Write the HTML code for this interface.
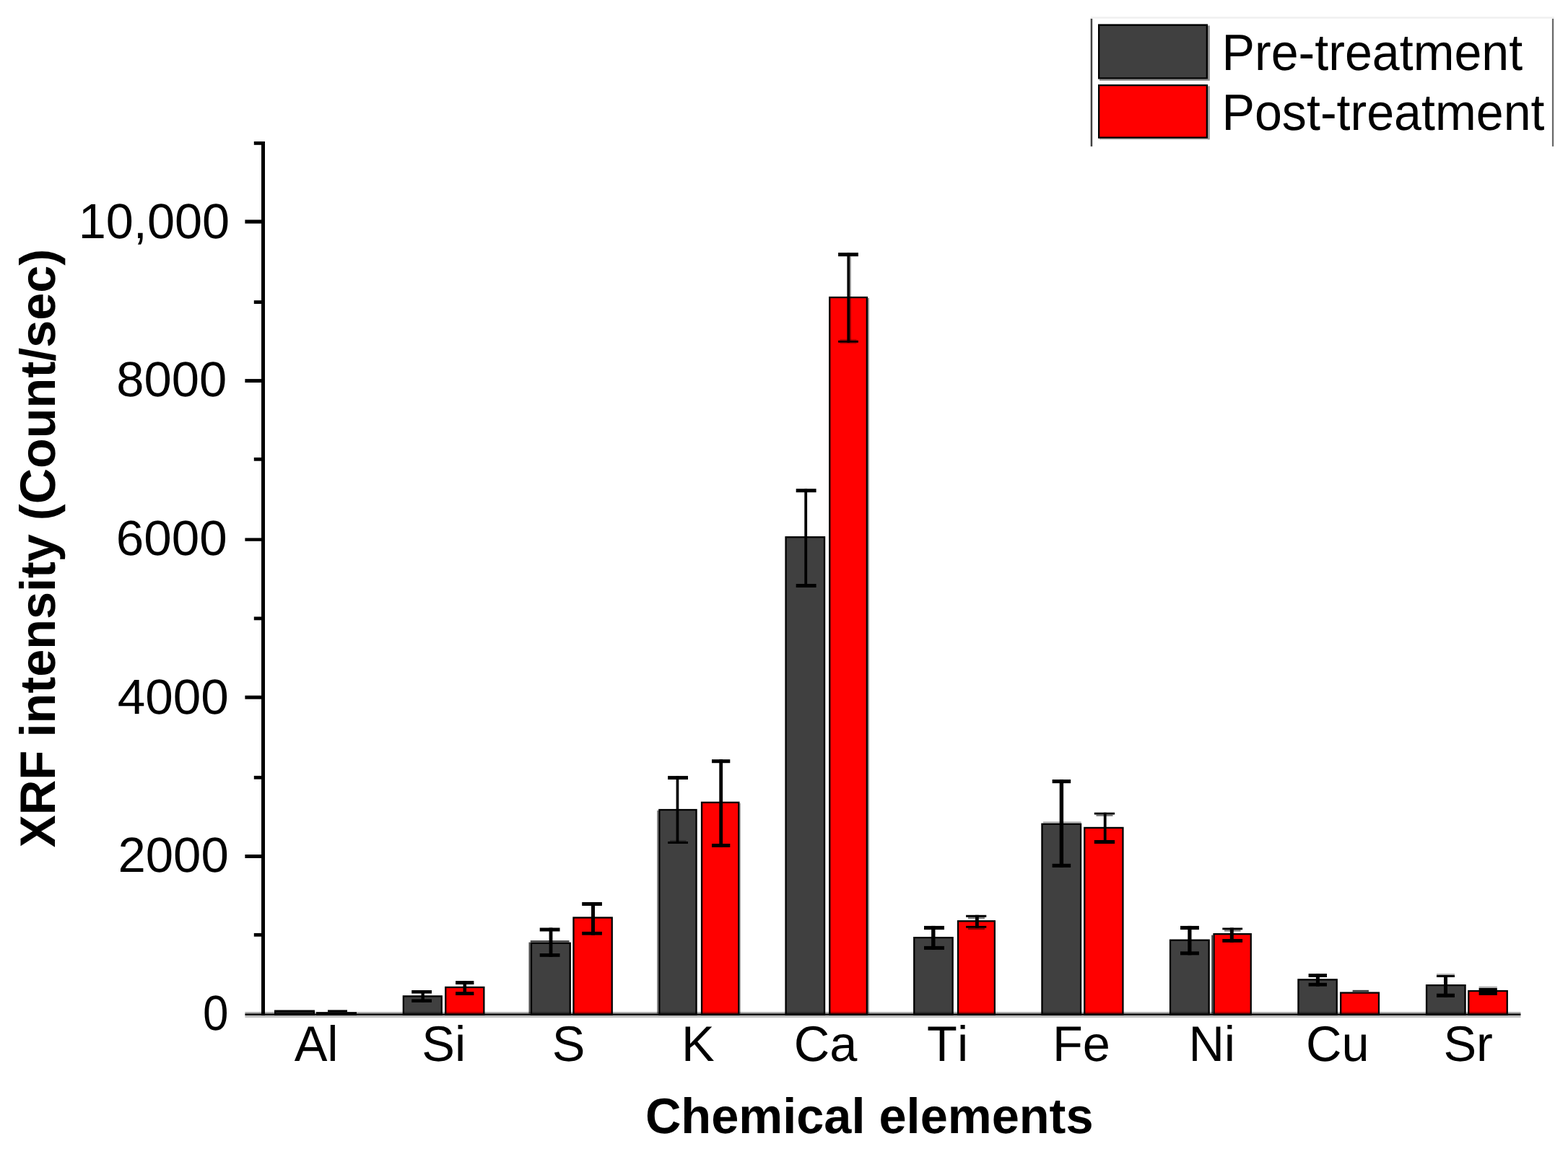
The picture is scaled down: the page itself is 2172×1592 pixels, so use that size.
<!DOCTYPE html>
<html lang="en">
<head>
<meta charset="utf-8">
<title>XRF intensity by chemical element</title>
<style>
html,body{margin:0;padding:0;background:#fff;}
body{width:2172px;height:1592px;overflow:hidden;}
svg{display:block;}
text{font-family:"Liberation Sans",Arial,Helvetica,sans-serif;fill:#000;font-kerning:none;text-rendering:geometricPrecision;}
</style>
</head>
<body>
<svg width="2172" height="1592" viewBox="0 0 2172 1592">
<rect x="0" y="0" width="2172" height="1592" fill="#fff"/>
<rect x="380.00" y="1399.50" width="56.00" height="7.40" fill="#000"/>
<rect x="382.30" y="1401.80" width="51.40" height="2.60" fill="#262626"/>
<rect x="438.00" y="1402.20" width="56.00" height="4.70" fill="#000"/>
<rect x="557.70" y="1379.20" width="55.20" height="27.70" fill="#000"/>
<rect x="560.00" y="1381.50" width="50.60" height="22.90" fill="#404040"/>
<rect x="616.10" y="1366.80" width="55.40" height="40.10" fill="#000"/>
<rect x="618.40" y="1369.10" width="50.80" height="35.30" fill="#ff0000"/>
<rect x="734.80" y="1305.60" width="56.10" height="101.30" fill="#000"/>
<rect x="737.10" y="1307.90" width="51.50" height="96.50" fill="#404040"/>
<rect x="793.30" y="1270.30" width="55.60" height="136.60" fill="#000"/>
<rect x="795.60" y="1272.60" width="51.00" height="131.80" fill="#ff0000"/>
<rect x="912.20" y="1120.90" width="53.50" height="286.00" fill="#000"/>
<rect x="914.50" y="1123.20" width="48.90" height="281.20" fill="#404040"/>
<rect x="970.90" y="1110.70" width="53.60" height="296.20" fill="#000"/>
<rect x="973.20" y="1113.00" width="49.00" height="291.40" fill="#ff0000"/>
<rect x="1087.40" y="743.10" width="55.80" height="663.80" fill="#000"/>
<rect x="1089.70" y="745.40" width="51.20" height="659.00" fill="#404040"/>
<rect x="1148.10" y="410.90" width="53.90" height="996.00" fill="#000"/>
<rect x="1150.40" y="413.20" width="49.30" height="991.20" fill="#ff0000"/>
<rect x="1265.10" y="1298.00" width="55.70" height="108.90" fill="#000"/>
<rect x="1267.40" y="1300.30" width="51.10" height="104.10" fill="#404040"/>
<rect x="1325.90" y="1275.10" width="53.10" height="131.80" fill="#000"/>
<rect x="1328.20" y="1277.40" width="48.50" height="127.00" fill="#ff0000"/>
<rect x="1442.30" y="1140.60" width="55.90" height="266.30" fill="#000"/>
<rect x="1444.60" y="1142.90" width="51.30" height="261.50" fill="#404040"/>
<rect x="1501.10" y="1145.80" width="55.50" height="261.10" fill="#000"/>
<rect x="1503.40" y="1148.10" width="50.90" height="256.30" fill="#ff0000"/>
<rect x="1619.90" y="1301.50" width="55.90" height="105.40" fill="#000"/>
<rect x="1622.20" y="1303.80" width="51.30" height="100.60" fill="#404040"/>
<rect x="1680.40" y="1293.00" width="53.50" height="113.90" fill="#000"/>
<rect x="1682.70" y="1295.30" width="48.90" height="109.10" fill="#ff0000"/>
<rect x="1797.30" y="1356.20" width="55.60" height="50.70" fill="#000"/>
<rect x="1799.60" y="1358.50" width="51.00" height="45.90" fill="#404040"/>
<rect x="1856.00" y="1374.40" width="55.10" height="32.50" fill="#000"/>
<rect x="1858.30" y="1376.70" width="50.50" height="27.70" fill="#ff0000"/>
<rect x="1974.90" y="1364.00" width="55.80" height="42.90" fill="#000"/>
<rect x="1977.20" y="1366.30" width="51.20" height="38.10" fill="#404040"/>
<rect x="2033.10" y="1371.90" width="55.80" height="35.00" fill="#000"/>
<rect x="2035.40" y="1374.20" width="51.20" height="30.20" fill="#ff0000"/>
<rect x="732.50" y="1305.60" width="2.30" height="98.80" fill="#000" fill-opacity="0.70"/>
<rect x="734.80" y="1303.00" width="53.70" height="2.60" fill="#000" fill-opacity="0.70"/>
<rect x="1445.00" y="1138.30" width="52.60" height="2.30" fill="#000" fill-opacity="0.30"/>
<rect x="910.10" y="1123.00" width="2.10" height="281.40" fill="#000" fill-opacity="0.50"/>
<rect x="1024.50" y="1113.00" width="1.40" height="291.40" fill="#000" fill-opacity="0.35"/>
<rect x="1202.00" y="413.00" width="1.90" height="991.40" fill="#000" fill-opacity="0.45"/>
<rect x="1678.20" y="1295.60" width="2.20" height="108.80" fill="#000" fill-opacity="0.75"/>
<rect x="339.4" y="1402" width="1767.1" height="2.6" fill="#000" fill-opacity="0.31"/>
<rect x="339.4" y="1406.6" width="1767.1" height="3.4" fill="#000" fill-opacity="0.24"/>
<rect x="339.40" y="1404.40" width="1767.10" height="2.40" fill="#000"/>
<rect x="583.50" y="1372.00" width="4.40" height="16.90" fill="#000"/>
<rect x="570.20" y="1372.00" width="27.80" height="4.60" fill="#000"/>
<rect x="570.20" y="1384.40" width="27.80" height="4.50" fill="#000"/>
<rect x="641.50" y="1359.10" width="4.60" height="19.90" fill="#000"/>
<rect x="631.10" y="1359.10" width="25.30" height="4.90" fill="#000"/>
<rect x="631.10" y="1374.20" width="25.30" height="4.80" fill="#000"/>
<rect x="760.60" y="1285.50" width="4.80" height="40.30" fill="#000"/>
<rect x="747.70" y="1285.50" width="27.80" height="5.00" fill="#000"/>
<rect x="747.70" y="1321.00" width="27.80" height="4.80" fill="#000"/>
<rect x="819.00" y="1250.00" width="5.00" height="45.60" fill="#000"/>
<rect x="806.20" y="1250.00" width="27.70" height="5.00" fill="#000"/>
<rect x="806.20" y="1290.90" width="27.70" height="4.70" fill="#000"/>
<rect x="936.60" y="1075.10" width="3.70" height="93.90" fill="#000"/>
<rect x="925.10" y="1075.10" width="27.90" height="5.00" fill="#000"/>
<rect x="925.10" y="1166.00" width="27.90" height="3.00" fill="#000"/>
<rect x="996.30" y="1052.20" width="4.80" height="121.70" fill="#000"/>
<rect x="986.00" y="1052.20" width="25.30" height="5.00" fill="#000"/>
<rect x="986.00" y="1169.00" width="25.30" height="4.90" fill="#000"/>
<rect x="1114.30" y="677.20" width="3.80" height="136.80" fill="#000"/>
<rect x="1102.70" y="677.20" width="27.90" height="5.00" fill="#000"/>
<rect x="1102.70" y="809.00" width="27.90" height="5.00" fill="#000"/>
<rect x="1173.40" y="350.10" width="3.60" height="124.60" fill="#000"/>
<rect x="1161.10" y="350.10" width="27.80" height="5.10" fill="#000"/>
<rect x="1161.10" y="471.80" width="27.80" height="2.90" fill="#000"/>
<rect x="1290.10" y="1282.90" width="5.40" height="33.00" fill="#000"/>
<rect x="1280.00" y="1282.90" width="28.00" height="5.20" fill="#000"/>
<rect x="1280.00" y="1310.90" width="28.00" height="5.00" fill="#000"/>
<rect x="1351.00" y="1267.80" width="4.80" height="17.90" fill="#000"/>
<rect x="1338.10" y="1267.80" width="28.20" height="3.00" fill="#000"/>
<rect x="1338.10" y="1282.90" width="28.20" height="2.80" fill="#000"/>
<rect x="1467.70" y="1080.10" width="5.40" height="121.80" fill="#000"/>
<rect x="1457.60" y="1080.10" width="25.60" height="5.10" fill="#000"/>
<rect x="1457.60" y="1196.80" width="25.60" height="5.10" fill="#000"/>
<rect x="1528.80" y="1125.80" width="3.80" height="43.20" fill="#000"/>
<rect x="1515.80" y="1125.80" width="28.30" height="2.80" fill="#000"/>
<rect x="1515.80" y="1164.00" width="28.30" height="5.00" fill="#000"/>
<rect x="1645.30" y="1282.90" width="5.20" height="40.40" fill="#000"/>
<rect x="1635.00" y="1282.90" width="25.90" height="5.20" fill="#000"/>
<rect x="1635.00" y="1318.30" width="25.90" height="5.00" fill="#000"/>
<rect x="1703.80" y="1285.50" width="5.00" height="20.30" fill="#000"/>
<rect x="1693.30" y="1285.50" width="27.80" height="2.80" fill="#000"/>
<rect x="1693.30" y="1301.00" width="27.80" height="4.80" fill="#000"/>
<rect x="1822.90" y="1349.10" width="5.00" height="17.50" fill="#000"/>
<rect x="1812.60" y="1349.10" width="25.40" height="4.90" fill="#000"/>
<rect x="1812.60" y="1361.80" width="25.40" height="4.80" fill="#000"/>
<rect x="2000.00" y="1351.00" width="5.00" height="30.90" fill="#000"/>
<rect x="1990.00" y="1351.00" width="25.00" height="3.00" fill="#000"/>
<rect x="1990.00" y="1376.70" width="25.00" height="5.20" fill="#000"/>
<rect x="1341.00" y="1270.80" width="23.00" height="2.40" fill="#000" fill-opacity="0.50"/>
<rect x="1341.00" y="1285.70" width="23.00" height="2.40" fill="#000" fill-opacity="0.45"/>
<rect x="1518.50" y="1128.60" width="23.00" height="2.40" fill="#000" fill-opacity="0.50"/>
<rect x="1696.00" y="1288.30" width="22.50" height="2.30" fill="#000" fill-opacity="0.50"/>
<rect x="1163.50" y="469.90" width="23.00" height="1.90" fill="#000" fill-opacity="0.25"/>
<rect x="1163.50" y="474.70" width="23.00" height="1.70" fill="#000" fill-opacity="0.25"/>
<rect x="928.00" y="1164.20" width="22.50" height="1.80" fill="#000" fill-opacity="0.35"/>
<rect x="1990.00" y="1349.00" width="25.00" height="2.00" fill="#000" fill-opacity="0.30"/>
<rect x="2048.60" y="1366.60" width="25.20" height="2.40" fill="#000" fill-opacity="0.30"/>
<rect x="1177.00" y="355.20" width="1.80" height="116.60" fill="#000" fill-opacity="0.45"/>
<rect x="454.00" y="1399.40" width="27.00" height="3.00" fill="#000"/>
<rect x="1873.60" y="1371.80" width="22.40" height="2.70" fill="#404040"/>
<rect x="2048.60" y="1369.00" width="25.20" height="9.90" fill="#000"/>
<rect x="362.00" y="196.00" width="5.00" height="1211.00" fill="#000"/>
<rect x="339.40" y="304.50" width="24.60" height="5.20" fill="#000"/>
<rect x="339.40" y="525.10" width="24.60" height="5.00" fill="#000"/>
<rect x="339.40" y="745.40" width="24.60" height="4.40" fill="#000"/>
<rect x="339.40" y="963.70" width="24.60" height="5.00" fill="#000"/>
<rect x="339.40" y="1184.00" width="24.60" height="5.00" fill="#000"/>
<rect x="351.80" y="196.00" width="12.20" height="4.80" fill="#000"/>
<rect x="351.80" y="416.20" width="12.20" height="4.80" fill="#000"/>
<rect x="351.80" y="633.90" width="12.20" height="4.80" fill="#000"/>
<rect x="351.80" y="854.50" width="12.20" height="4.80" fill="#000"/>
<rect x="351.80" y="1074.90" width="12.20" height="4.80" fill="#000"/>
<rect x="351.80" y="1292.90" width="12.20" height="4.80" fill="#000"/>
<text transform="translate(108.66 329.51) scale(1.0029 1)" font-size="68.30">10,000</text>
<text transform="translate(161.31 548.51) scale(1.0068 1)" font-size="68.30">8000</text>
<text transform="translate(160.79 768.81) scale(1.0130 1)" font-size="68.30">6000</text>
<text transform="translate(162.71 988.51) scale(1.0142 1)" font-size="68.30">4000</text>
<text transform="translate(163.43 1207.51) scale(1.0093 1)" font-size="68.30">2000</text>
<text transform="translate(281.11 1426.51) scale(0.9342 1)" font-size="68.30">0</text>
<text transform="translate(407.67 1470.30) scale(0.9928 1)" font-size="69.00">Al</text>
<text transform="translate(584.19 1470.30) scale(0.9928 1)" font-size="69.00">Si</text>
<text transform="translate(764.69 1470.30) scale(0.9928 1)" font-size="69.00">S</text>
<text transform="translate(944.08 1470.30) scale(0.9928 1)" font-size="69.00">K</text>
<text transform="translate(1099.82 1470.30) scale(0.9928 1)" font-size="69.00">Ca</text>
<text transform="translate(1284.06 1470.30) scale(0.9928 1)" font-size="69.00">Ti</text>
<text transform="translate(1457.88 1470.30) scale(0.9928 1)" font-size="69.00">Fe</text>
<text transform="translate(1646.38 1470.30) scale(0.9928 1)" font-size="69.00">Ni</text>
<text transform="translate(1809.12 1470.30) scale(0.9928 1)" font-size="69.00">Cu</text>
<text transform="translate(1999.39 1470.30) scale(0.9928 1)" font-size="69.00">Sr</text>
<text transform="translate(893.89 1569.50) scale(0.9928 1)" font-size="69.00" font-weight="bold">Chemical elements</text>
<text transform="translate(76.20 1174.19) rotate(-90) scale(0.9743 1)" font-size="69.00" font-weight="bold">XRF</text>
<text transform="translate(76.20 1021.38) rotate(-90) scale(0.9913 1)" font-size="69.00" font-weight="bold">intensity (Count/sec)</text>
<rect x="1510.70" y="25.70" width="2.50" height="177.20" fill="#404040"/>
<rect x="2149.90" y="25.70" width="2.30" height="177.20" fill="#6a6a6a"/>
<rect x="1511.00" y="23.20" width="642.00" height="2.50" fill="#f0f0f0"/>
<rect x="1521.00" y="33.40" width="152.00" height="76.20" fill="#000"/>
<rect x="1523.30" y="35.90" width="147.40" height="71.40" fill="#404040"/>
<rect x="1521.00" y="117.00" width="152.00" height="74.80" fill="#000"/>
<rect x="1523.30" y="119.30" width="147.40" height="70.20" fill="#ff0000"/>
<rect x="1673.00" y="35.50" width="2.80" height="76.30" fill="#000" fill-opacity="0.45"/>
<rect x="1523.00" y="109.60" width="150.00" height="2.20" fill="#000" fill-opacity="0.45"/>
<rect x="1673.00" y="119.30" width="2.80" height="74.10" fill="#000" fill-opacity="0.40"/>
<rect x="1523.00" y="191.80" width="150.00" height="1.60" fill="#000" fill-opacity="0.30"/>
<text transform="translate(1692.51 96.70) scale(0.9599 1)" font-size="71.00">Pre-treatment</text>
<text transform="translate(1692.51 179.70) scale(0.9599 1)" font-size="71.00">Post-treatment</text>
</svg>
</body>
</html>
